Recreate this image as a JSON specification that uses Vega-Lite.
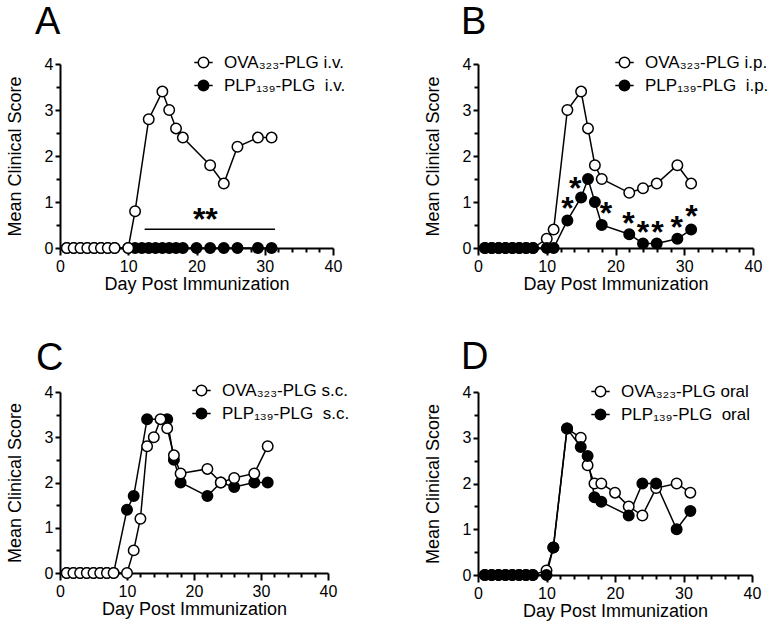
{
  "$schema": "https://vega.github.io/schema/vega-lite/v6.json",
  "background": "white",
  "padding": {"left": 6, "top": 4, "right": 5, "bottom": 5},
  "config": {
    "font": "Liberation Sans",
    "view": {"stroke": null},
    "axis": {"domainColor": "black", "domainWidth": 2, "tickColor": "black", "tickWidth": 2, "labelColor": "black", "titleColor": "black", "labelFont": "Liberation Sans", "titleFont": "Liberation Sans", "labelFontSize": 16, "titleFontSize": 18, "titleFontWeight": "normal", "grid": false},
    "legend": {"labelFont": "Liberation Sans", "labelFontSize": 17, "labelColor": "black"},
    "title": {"font": "Liberation Sans", "fontSize": 38, "fontWeight": "normal", "color": "black", "anchor": "start", "frame": "group"}
  },
  "datasets": {
    "scores": [
      {"p":"A","s":"PLP₁₃₉-PLG\u00a0 i.v.","d":1,"v":0},{"p":"A","s":"PLP₁₃₉-PLG\u00a0 i.v.","d":2,"v":0},{"p":"A","s":"PLP₁₃₉-PLG\u00a0 i.v.","d":3,"v":0},{"p":"A","s":"PLP₁₃₉-PLG\u00a0 i.v.","d":4,"v":0},{"p":"A","s":"PLP₁₃₉-PLG\u00a0 i.v.","d":5,"v":0},{"p":"A","s":"PLP₁₃₉-PLG\u00a0 i.v.","d":6,"v":0},{"p":"A","s":"PLP₁₃₉-PLG\u00a0 i.v.","d":7,"v":0},{"p":"A","s":"PLP₁₃₉-PLG\u00a0 i.v.","d":8,"v":0},{"p":"A","s":"PLP₁₃₉-PLG\u00a0 i.v.","d":10,"v":0},{"p":"A","s":"PLP₁₃₉-PLG\u00a0 i.v.","d":11,"v":0},{"p":"A","s":"PLP₁₃₉-PLG\u00a0 i.v.","d":12,"v":0},{"p":"A","s":"PLP₁₃₉-PLG\u00a0 i.v.","d":13,"v":0},{"p":"A","s":"PLP₁₃₉-PLG\u00a0 i.v.","d":14,"v":0},{"p":"A","s":"PLP₁₃₉-PLG\u00a0 i.v.","d":15,"v":0},{"p":"A","s":"PLP₁₃₉-PLG\u00a0 i.v.","d":16,"v":0},{"p":"A","s":"PLP₁₃₉-PLG\u00a0 i.v.","d":17,"v":0},{"p":"A","s":"PLP₁₃₉-PLG\u00a0 i.v.","d":18,"v":0},{"p":"A","s":"PLP₁₃₉-PLG\u00a0 i.v.","d":20,"v":0},{"p":"A","s":"PLP₁₃₉-PLG\u00a0 i.v.","d":22,"v":0},{"p":"A","s":"PLP₁₃₉-PLG\u00a0 i.v.","d":24,"v":0},{"p":"A","s":"PLP₁₃₉-PLG\u00a0 i.v.","d":26,"v":0},{"p":"A","s":"PLP₁₃₉-PLG\u00a0 i.v.","d":29,"v":0},{"p":"A","s":"PLP₁₃₉-PLG\u00a0 i.v.","d":31,"v":0},
      {"p":"A","s":"OVA₃₂₃-PLG i.v.","d":1,"v":0},{"p":"A","s":"OVA₃₂₃-PLG i.v.","d":2,"v":0},{"p":"A","s":"OVA₃₂₃-PLG i.v.","d":3,"v":0},{"p":"A","s":"OVA₃₂₃-PLG i.v.","d":4,"v":0},{"p":"A","s":"OVA₃₂₃-PLG i.v.","d":5,"v":0},{"p":"A","s":"OVA₃₂₃-PLG i.v.","d":6,"v":0},{"p":"A","s":"OVA₃₂₃-PLG i.v.","d":7,"v":0},{"p":"A","s":"OVA₃₂₃-PLG i.v.","d":8,"v":0},{"p":"A","s":"OVA₃₂₃-PLG i.v.","d":10,"v":0},{"p":"A","s":"OVA₃₂₃-PLG i.v.","d":11,"v":0.8},{"p":"A","s":"OVA₃₂₃-PLG i.v.","d":13,"v":2.8},{"p":"A","s":"OVA₃₂₃-PLG i.v.","d":15,"v":3.4},{"p":"A","s":"OVA₃₂₃-PLG i.v.","d":16,"v":3.0},{"p":"A","s":"OVA₃₂₃-PLG i.v.","d":17,"v":2.6},{"p":"A","s":"OVA₃₂₃-PLG i.v.","d":18,"v":2.4},{"p":"A","s":"OVA₃₂₃-PLG i.v.","d":22,"v":1.8},{"p":"A","s":"OVA₃₂₃-PLG i.v.","d":24,"v":1.4},{"p":"A","s":"OVA₃₂₃-PLG i.v.","d":26,"v":2.2},{"p":"A","s":"OVA₃₂₃-PLG i.v.","d":29,"v":2.4},{"p":"A","s":"OVA₃₂₃-PLG i.v.","d":31,"v":2.4},

      {"p":"B","s":"OVA₃₂₃-PLG i.p.","d":1,"v":0},{"p":"B","s":"OVA₃₂₃-PLG i.p.","d":2,"v":0},{"p":"B","s":"OVA₃₂₃-PLG i.p.","d":3,"v":0},{"p":"B","s":"OVA₃₂₃-PLG i.p.","d":4,"v":0},{"p":"B","s":"OVA₃₂₃-PLG i.p.","d":5,"v":0},{"p":"B","s":"OVA₃₂₃-PLG i.p.","d":6,"v":0},{"p":"B","s":"OVA₃₂₃-PLG i.p.","d":7,"v":0},{"p":"B","s":"OVA₃₂₃-PLG i.p.","d":8,"v":0},{"p":"B","s":"OVA₃₂₃-PLG i.p.","d":10,"v":0.2},{"p":"B","s":"OVA₃₂₃-PLG i.p.","d":11,"v":0.4},{"p":"B","s":"OVA₃₂₃-PLG i.p.","d":13,"v":3.0},{"p":"B","s":"OVA₃₂₃-PLG i.p.","d":15,"v":3.4},{"p":"B","s":"OVA₃₂₃-PLG i.p.","d":16,"v":2.6},{"p":"B","s":"OVA₃₂₃-PLG i.p.","d":17,"v":1.8},{"p":"B","s":"OVA₃₂₃-PLG i.p.","d":18,"v":1.5},{"p":"B","s":"OVA₃₂₃-PLG i.p.","d":22,"v":1.2},{"p":"B","s":"OVA₃₂₃-PLG i.p.","d":24,"v":1.3},{"p":"B","s":"OVA₃₂₃-PLG i.p.","d":26,"v":1.4},{"p":"B","s":"OVA₃₂₃-PLG i.p.","d":29,"v":1.8},{"p":"B","s":"OVA₃₂₃-PLG i.p.","d":31,"v":1.4},
      {"p":"B","s":"PLP₁₃₉-PLG\u00a0 i.p.","d":1,"v":0},{"p":"B","s":"PLP₁₃₉-PLG\u00a0 i.p.","d":2,"v":0},{"p":"B","s":"PLP₁₃₉-PLG\u00a0 i.p.","d":3,"v":0},{"p":"B","s":"PLP₁₃₉-PLG\u00a0 i.p.","d":4,"v":0},{"p":"B","s":"PLP₁₃₉-PLG\u00a0 i.p.","d":5,"v":0},{"p":"B","s":"PLP₁₃₉-PLG\u00a0 i.p.","d":6,"v":0},{"p":"B","s":"PLP₁₃₉-PLG\u00a0 i.p.","d":7,"v":0},{"p":"B","s":"PLP₁₃₉-PLG\u00a0 i.p.","d":8,"v":0},{"p":"B","s":"PLP₁₃₉-PLG\u00a0 i.p.","d":10,"v":0},{"p":"B","s":"PLP₁₃₉-PLG\u00a0 i.p.","d":11,"v":0},{"p":"B","s":"PLP₁₃₉-PLG\u00a0 i.p.","d":13,"v":0.6},{"p":"B","s":"PLP₁₃₉-PLG\u00a0 i.p.","d":15,"v":1.1},{"p":"B","s":"PLP₁₃₉-PLG\u00a0 i.p.","d":16,"v":1.5},{"p":"B","s":"PLP₁₃₉-PLG\u00a0 i.p.","d":17,"v":1.0},{"p":"B","s":"PLP₁₃₉-PLG\u00a0 i.p.","d":18,"v":0.5},{"p":"B","s":"PLP₁₃₉-PLG\u00a0 i.p.","d":22,"v":0.3},{"p":"B","s":"PLP₁₃₉-PLG\u00a0 i.p.","d":24,"v":0.1},{"p":"B","s":"PLP₁₃₉-PLG\u00a0 i.p.","d":26,"v":0.1},{"p":"B","s":"PLP₁₃₉-PLG\u00a0 i.p.","d":29,"v":0.2},{"p":"B","s":"PLP₁₃₉-PLG\u00a0 i.p.","d":31,"v":0.4},

      {"p":"C","s":"PLP₁₃₉-PLG\u00a0 s.c.","d":1,"v":0},{"p":"C","s":"PLP₁₃₉-PLG\u00a0 s.c.","d":2,"v":0},{"p":"C","s":"PLP₁₃₉-PLG\u00a0 s.c.","d":3,"v":0},{"p":"C","s":"PLP₁₃₉-PLG\u00a0 s.c.","d":4,"v":0},{"p":"C","s":"PLP₁₃₉-PLG\u00a0 s.c.","d":5,"v":0},{"p":"C","s":"PLP₁₃₉-PLG\u00a0 s.c.","d":6,"v":0},{"p":"C","s":"PLP₁₃₉-PLG\u00a0 s.c.","d":7,"v":0},{"p":"C","s":"PLP₁₃₉-PLG\u00a0 s.c.","d":8,"v":0},{"p":"C","s":"PLP₁₃₉-PLG\u00a0 s.c.","d":10,"v":1.4},{"p":"C","s":"PLP₁₃₉-PLG\u00a0 s.c.","d":11,"v":1.7},{"p":"C","s":"PLP₁₃₉-PLG\u00a0 s.c.","d":13,"v":3.4},{"p":"C","s":"PLP₁₃₉-PLG\u00a0 s.c.","d":16,"v":3.4},{"p":"C","s":"PLP₁₃₉-PLG\u00a0 s.c.","d":17,"v":2.5},{"p":"C","s":"PLP₁₃₉-PLG\u00a0 s.c.","d":18,"v":2.0},{"p":"C","s":"PLP₁₃₉-PLG\u00a0 s.c.","d":22,"v":1.7},{"p":"C","s":"PLP₁₃₉-PLG\u00a0 s.c.","d":24,"v":2.0},{"p":"C","s":"PLP₁₃₉-PLG\u00a0 s.c.","d":26,"v":1.9},{"p":"C","s":"PLP₁₃₉-PLG\u00a0 s.c.","d":29,"v":2.0},{"p":"C","s":"PLP₁₃₉-PLG\u00a0 s.c.","d":31,"v":2.0},
      {"p":"C","s":"OVA₃₂₃-PLG s.c.","d":1,"v":0},{"p":"C","s":"OVA₃₂₃-PLG s.c.","d":2,"v":0},{"p":"C","s":"OVA₃₂₃-PLG s.c.","d":3,"v":0},{"p":"C","s":"OVA₃₂₃-PLG s.c.","d":4,"v":0},{"p":"C","s":"OVA₃₂₃-PLG s.c.","d":5,"v":0},{"p":"C","s":"OVA₃₂₃-PLG s.c.","d":6,"v":0},{"p":"C","s":"OVA₃₂₃-PLG s.c.","d":7,"v":0},{"p":"C","s":"OVA₃₂₃-PLG s.c.","d":8,"v":0},{"p":"C","s":"OVA₃₂₃-PLG s.c.","d":10,"v":0},{"p":"C","s":"OVA₃₂₃-PLG s.c.","d":11,"v":0.5},{"p":"C","s":"OVA₃₂₃-PLG s.c.","d":12,"v":1.2},{"p":"C","s":"OVA₃₂₃-PLG s.c.","d":13,"v":2.8},{"p":"C","s":"OVA₃₂₃-PLG s.c.","d":14,"v":3.0},{"p":"C","s":"OVA₃₂₃-PLG s.c.","d":15,"v":3.4},{"p":"C","s":"OVA₃₂₃-PLG s.c.","d":16,"v":3.2},{"p":"C","s":"OVA₃₂₃-PLG s.c.","d":17,"v":2.6},{"p":"C","s":"OVA₃₂₃-PLG s.c.","d":18,"v":2.2},{"p":"C","s":"OVA₃₂₃-PLG s.c.","d":22,"v":2.3},{"p":"C","s":"OVA₃₂₃-PLG s.c.","d":24,"v":2.0},{"p":"C","s":"OVA₃₂₃-PLG s.c.","d":26,"v":2.1},{"p":"C","s":"OVA₃₂₃-PLG s.c.","d":29,"v":2.2},{"p":"C","s":"OVA₃₂₃-PLG s.c.","d":31,"v":2.8},

      {"p":"D","s":"OVA₃₂₃-PLG oral","d":1,"v":0},{"p":"D","s":"OVA₃₂₃-PLG oral","d":2,"v":0},{"p":"D","s":"OVA₃₂₃-PLG oral","d":3,"v":0},{"p":"D","s":"OVA₃₂₃-PLG oral","d":4,"v":0},{"p":"D","s":"OVA₃₂₃-PLG oral","d":5,"v":0},{"p":"D","s":"OVA₃₂₃-PLG oral","d":6,"v":0},{"p":"D","s":"OVA₃₂₃-PLG oral","d":7,"v":0},{"p":"D","s":"OVA₃₂₃-PLG oral","d":8,"v":0},{"p":"D","s":"OVA₃₂₃-PLG oral","d":10,"v":0.1},{"p":"D","s":"OVA₃₂₃-PLG oral","d":11,"v":0.6},{"p":"D","s":"OVA₃₂₃-PLG oral","d":13,"v":3.2},{"p":"D","s":"OVA₃₂₃-PLG oral","d":15,"v":3.0},{"p":"D","s":"OVA₃₂₃-PLG oral","d":16,"v":2.4},{"p":"D","s":"OVA₃₂₃-PLG oral","d":17,"v":2.0},{"p":"D","s":"OVA₃₂₃-PLG oral","d":18,"v":2.0},{"p":"D","s":"OVA₃₂₃-PLG oral","d":20,"v":1.8},{"p":"D","s":"OVA₃₂₃-PLG oral","d":22,"v":1.5},{"p":"D","s":"OVA₃₂₃-PLG oral","d":24,"v":1.3},{"p":"D","s":"OVA₃₂₃-PLG oral","d":26,"v":1.9},{"p":"D","s":"OVA₃₂₃-PLG oral","d":29,"v":2.0},{"p":"D","s":"OVA₃₂₃-PLG oral","d":31,"v":1.8},
      {"p":"D","s":"PLP₁₃₉-PLG\u00a0 oral","d":1,"v":0},{"p":"D","s":"PLP₁₃₉-PLG\u00a0 oral","d":2,"v":0},{"p":"D","s":"PLP₁₃₉-PLG\u00a0 oral","d":3,"v":0},{"p":"D","s":"PLP₁₃₉-PLG\u00a0 oral","d":4,"v":0},{"p":"D","s":"PLP₁₃₉-PLG\u00a0 oral","d":5,"v":0},{"p":"D","s":"PLP₁₃₉-PLG\u00a0 oral","d":6,"v":0},{"p":"D","s":"PLP₁₃₉-PLG\u00a0 oral","d":7,"v":0},{"p":"D","s":"PLP₁₃₉-PLG\u00a0 oral","d":8,"v":0},{"p":"D","s":"PLP₁₃₉-PLG\u00a0 oral","d":10,"v":0},{"p":"D","s":"PLP₁₃₉-PLG\u00a0 oral","d":11,"v":0.6},{"p":"D","s":"PLP₁₃₉-PLG\u00a0 oral","d":13,"v":3.2},{"p":"D","s":"PLP₁₃₉-PLG\u00a0 oral","d":15,"v":2.8},{"p":"D","s":"PLP₁₃₉-PLG\u00a0 oral","d":16,"v":2.6},{"p":"D","s":"PLP₁₃₉-PLG\u00a0 oral","d":17,"v":1.7},{"p":"D","s":"PLP₁₃₉-PLG\u00a0 oral","d":18,"v":1.6},{"p":"D","s":"PLP₁₃₉-PLG\u00a0 oral","d":22,"v":1.3},{"p":"D","s":"PLP₁₃₉-PLG\u00a0 oral","d":24,"v":2.0},{"p":"D","s":"PLP₁₃₉-PLG\u00a0 oral","d":26,"v":2.0},{"p":"D","s":"PLP₁₃₉-PLG\u00a0 oral","d":29,"v":1.0},{"p":"D","s":"PLP₁₃₉-PLG\u00a0 oral","d":31,"v":1.4}
    ],
    "stars": [
      {"p":"A","d":21.3,"v":0.71,"t":"**"},
      {"p":"B","d":13.0,"v":0.96,"t":"*"},{"p":"B","d":14.15,"v":1.4,"t":"*"},{"p":"B","d":18.6,"v":0.84,"t":"*"},{"p":"B","d":21.9,"v":0.64,"t":"*"},{"p":"B","d":24.0,"v":0.44,"t":"*"},{"p":"B","d":26.1,"v":0.44,"t":"*"},{"p":"B","d":28.9,"v":0.55,"t":"*"},{"p":"B","d":31.05,"v":0.79,"t":"*"}
    ],
    "bars": [{"p":"A","x1":12.4,"x2":31.5,"y":0.41}]
  },
  "columns": 2,
  "spacing": {"row": 144, "column": 145},
  "bounds": "flush",
  "resolve": {"scale": {"fill": "independent"}, "legend": {"fill": "independent"}},
  "concat": [
    {
      "width": 273, "height": 184,
      "title": {"text": "A", "dx": -25, "offset": 12},
      "encoding": {
        "x": {"field": "d", "type": "quantitative", "scale": {"domain": [0, 40], "nice": false, "zero": false}, "axis": {"title": "Day Post Immunization", "values": [0,2,4,6,8,10,12,14,16,18,20,22,24,26,28,30,32,34,36,38,40], "labelExpr": "datum.value % 10 === 0 ? format(datum.value, 'd') : ''", "tickSize": {"condition": {"test": "datum.value % 10 === 0", "value": 7}, "value": 4}, "labelPadding": 3, "titlePadding": 1, "labelFlush": false}},
        "y": {"field": "v", "type": "quantitative", "scale": {"domain": [0, 4], "nice": false}, "axis": {"title": "Mean Clinical Score", "values": [0,0.5,1,1.5,2,2.5,3,3.5,4], "labelExpr": "datum.value % 1 === 0 ? format(datum.value, 'd') : ''", "tickSize": {"condition": {"test": "datum.value % 1 === 0", "value": 5}, "value": 4}, "labelPadding": 2, "titlePadding": 20, "labelFlush": false}}
      },
      "layer": [
        {"data": {"name": "scores"}, "transform": [{"filter": "datum.p === 'A'"}], "mark": {"type": "line", "color": "black", "strokeWidth": 1.5}, "encoding": {"detail": {"field": "s"}}},
        {"data": {"name": "scores"}, "transform": [{"filter": "datum.p === 'A'"}], "mark": {"type": "point", "shape": "circle", "size": 110, "stroke": "black", "strokeWidth": 1.5, "opacity": 1, "fillOpacity": 1},
         "encoding": {"fill": {"field": "s", "type": "nominal", "scale": {"domain": ["OVA₃₂₃-PLG i.v.", "PLP₁₃₉-PLG\u00a0 i.v."], "range": ["white", "black"]},
           "legend": {"title": null, "orient": "none", "legendX": 135, "legendY": -10, "padding": 0, "rowPadding": 5, "labelOffset": 12, "symbolType": "M-1.75,0L-1,0M1,0L1.75,0M1,0A1,1,0,1,1,-1,0A1,1,0,1,1,1,0Z", "symbolSize": 110, "symbolStrokeColor": "black", "symbolStrokeWidth": 1.5, "symbolOpacity": 1}}}},
        {"data": {"name": "bars"}, "mark": {"type": "rule", "color": "black", "strokeWidth": 1.5}, "encoding": {"x": {"field": "x1", "type": "quantitative"}, "x2": {"field": "x2"}, "y": {"field": "y", "type": "quantitative"}}},
        {"data": {"name": "stars"}, "transform": [{"filter": "datum.p === 'A'"}], "mark": {"type": "text", "fontSize": 32, "fontWeight": "bold", "baseline": "alphabetic", "align": "center", "dy": 15, "color": "black"}, "encoding": {"text": {"field": "t"}}}
      ]
    },
    {
      "width": 275, "height": 184,
      "title": {"text": "B", "dx": -17, "offset": 12},
      "encoding": {
        "x": {"field": "d", "type": "quantitative", "scale": {"domain": [0, 40], "nice": false, "zero": false}, "axis": {"title": "Day Post Immunization", "values": [0,2,4,6,8,10,12,14,16,18,20,22,24,26,28,30,32,34,36,38,40], "labelExpr": "datum.value % 10 === 0 ? format(datum.value, 'd') : ''", "tickSize": {"condition": {"test": "datum.value % 10 === 0", "value": 7}, "value": 4}, "labelPadding": 3, "titlePadding": 1, "labelFlush": false}},
        "y": {"field": "v", "type": "quantitative", "scale": {"domain": [0, 4], "nice": false}, "axis": {"title": "Mean Clinical Score", "values": [0,0.5,1,1.5,2,2.5,3,3.5,4], "labelExpr": "datum.value % 1 === 0 ? format(datum.value, 'd') : ''", "tickSize": {"condition": {"test": "datum.value % 1 === 0", "value": 5}, "value": 4}, "labelPadding": 2, "titlePadding": 20, "labelFlush": false}}
      },
      "layer": [
        {"data": {"name": "scores"}, "transform": [{"filter": "datum.p === 'B'"}], "mark": {"type": "line", "color": "black", "strokeWidth": 1.5}, "encoding": {"detail": {"field": "s"}}},
        {"data": {"name": "scores"}, "transform": [{"filter": "datum.p === 'B'"}], "mark": {"type": "point", "shape": "circle", "size": 110, "stroke": "black", "strokeWidth": 1.5, "opacity": 1, "fillOpacity": 1},
         "encoding": {"fill": {"field": "s", "type": "nominal", "scale": {"domain": ["OVA₃₂₃-PLG i.p.", "PLP₁₃₉-PLG\u00a0 i.p."], "range": ["white", "black"]},
           "legend": {"title": null, "orient": "none", "legendX": 138, "legendY": -10, "padding": 0, "rowPadding": 5, "labelOffset": 12, "symbolType": "M-1.75,0L-1,0M1,0L1.75,0M1,0A1,1,0,1,1,-1,0A1,1,0,1,1,1,0Z", "symbolSize": 110, "symbolStrokeColor": "black", "symbolStrokeWidth": 1.5, "symbolOpacity": 1}}}},
        {"data": {"name": "stars"}, "transform": [{"filter": "datum.p === 'B'"}], "mark": {"type": "text", "fontSize": 32, "fontWeight": "bold", "baseline": "alphabetic", "align": "center", "dy": 15, "color": "black"}, "encoding": {"text": {"field": "t"}}}
      ]
    },
    {
      "width": 268, "height": 181,
      "title": {"text": "C", "dx": -24, "offset": 4},
      "encoding": {
        "x": {"field": "d", "type": "quantitative", "scale": {"domain": [0, 40], "nice": false, "zero": false}, "axis": {"title": "Day Post Immunization", "values": [0,2,4,6,8,10,12,14,16,18,20,22,24,26,28,30,32,34,36,38,40], "labelExpr": "datum.value % 10 === 0 ? format(datum.value, 'd') : ''", "tickSize": {"condition": {"test": "datum.value % 10 === 0", "value": 7}, "value": 4}, "labelPadding": 3, "titlePadding": 1, "labelFlush": false}},
        "y": {"field": "v", "type": "quantitative", "scale": {"domain": [0, 4], "nice": false}, "axis": {"title": "Mean Clinical Score", "values": [0,0.5,1,1.5,2,2.5,3,3.5,4], "labelExpr": "datum.value % 1 === 0 ? format(datum.value, 'd') : ''", "tickSize": {"condition": {"test": "datum.value % 1 === 0", "value": 5}, "value": 4}, "labelPadding": 2, "titlePadding": 20, "labelFlush": false}}
      },
      "layer": [
        {"data": {"name": "scores"}, "transform": [{"filter": "datum.p === 'C'"}], "mark": {"type": "line", "color": "black", "strokeWidth": 1.5}, "encoding": {"detail": {"field": "s"}}},
        {"data": {"name": "scores"}, "transform": [{"filter": "datum.p === 'C'"}], "mark": {"type": "point", "shape": "circle", "size": 110, "stroke": "black", "strokeWidth": 1.5, "opacity": 1, "fillOpacity": 1},
         "encoding": {"fill": {"field": "s", "type": "nominal", "scale": {"domain": ["OVA₃₂₃-PLG s.c.", "PLP₁₃₉-PLG\u00a0 s.c."], "range": ["white", "black"]},
           "legend": {"title": null, "orient": "none", "legendX": 133, "legendY": -10, "padding": 0, "rowPadding": 5, "labelOffset": 12, "symbolType": "M-1.75,0L-1,0M1,0L1.75,0M1,0A1,1,0,1,1,-1,0A1,1,0,1,1,1,0Z", "symbolSize": 110, "symbolStrokeColor": "black", "symbolStrokeWidth": 1.5, "symbolOpacity": 1}}}}
      ]
    },
    {
      "width": 274, "height": 183,
      "title": {"text": "D", "dx": -17, "offset": 6},
      "encoding": {
        "x": {"field": "d", "type": "quantitative", "scale": {"domain": [0, 40], "nice": false, "zero": false}, "axis": {"title": "Day Post Immunization", "values": [0,2,4,6,8,10,12,14,16,18,20,22,24,26,28,30,32,34,36,38,40], "labelExpr": "datum.value % 10 === 0 ? format(datum.value, 'd') : ''", "tickSize": {"condition": {"test": "datum.value % 10 === 0", "value": 7}, "value": 4}, "labelPadding": 3, "titlePadding": 1, "labelFlush": false}},
        "y": {"field": "v", "type": "quantitative", "scale": {"domain": [0, 4], "nice": false}, "axis": {"title": "Mean Clinical Score", "values": [0,0.5,1,1.5,2,2.5,3,3.5,4], "labelExpr": "datum.value % 1 === 0 ? format(datum.value, 'd') : ''", "tickSize": {"condition": {"test": "datum.value % 1 === 0", "value": 5}, "value": 4}, "labelPadding": 2, "titlePadding": 20, "labelFlush": false}}
      },
      "layer": [
        {"data": {"name": "scores"}, "transform": [{"filter": "datum.p === 'D'"}], "mark": {"type": "line", "color": "black", "strokeWidth": 1.5}, "encoding": {"detail": {"field": "s"}}},
        {"data": {"name": "scores"}, "transform": [{"filter": "datum.p === 'D'"}], "mark": {"type": "point", "shape": "circle", "size": 110, "stroke": "black", "strokeWidth": 1.5, "opacity": 1, "fillOpacity": 1},
         "encoding": {"fill": {"field": "s", "type": "nominal", "scale": {"domain": ["OVA₃₂₃-PLG oral", "PLP₁₃₉-PLG\u00a0 oral"], "range": ["white", "black"]},
           "legend": {"title": null, "orient": "none", "legendX": 114, "legendY": -9, "padding": 0, "rowPadding": 5, "labelOffset": 12, "symbolType": "M-1.75,0L-1,0M1,0L1.75,0M1,0A1,1,0,1,1,-1,0A1,1,0,1,1,1,0Z", "symbolSize": 110, "symbolStrokeColor": "black", "symbolStrokeWidth": 1.5, "symbolOpacity": 1}}}}
      ]
    }
  ]
}
